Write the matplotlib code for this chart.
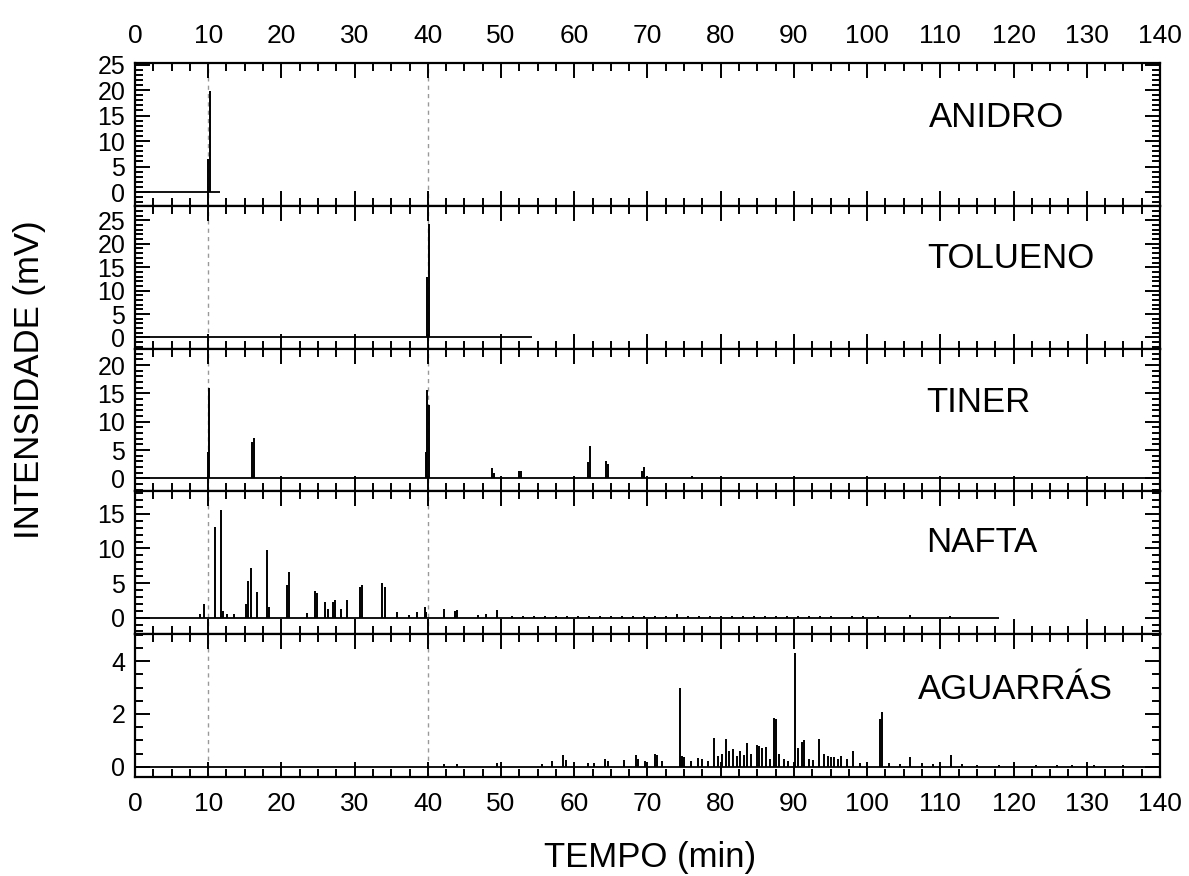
import numpy as np
import matplotlib.pyplot as plt
from matplotlib.ticker import MultipleLocator

plt.rcParams['font.family'] = ['Liberation Sans', 'DejaVu Sans']

# panel names and label positions (time, axes fraction)
names = ['ANIDRO', 'TOLUENO', 'TINER', 'NAFTA', 'AGUARRÁS']
label_x = [108.5, 108.2, 108.1, 108.1, 107.0]
label_y = [0.618, 0.634, 0.626, 0.639, 0.616]

# baseline extent (min)
base_end = [11.6, 54.2, 140, 118, 140]

# peaks: retention time (min) and height (mV)
anidro_t = [10.0, 10.2]
anidro_h = [6.5, 19.8]

tolueno_t = [39.9, 40.2]
tolueno_h = [13.0, 24.2]

tiner_t = [10.0, 10.15, 16.0, 16.2, 39.7, 39.9, 40.1, 48.8, 49.0, 52.4, 52.7,
           61.9, 62.2, 64.3, 64.6, 69.3, 69.5, 76.1]
tiner_h = [4.7, 16.0, 6.5, 7.2, 4.7, 15.6, 12.9, 1.8, 1.0, 1.35, 1.35,
           2.9, 5.8, 3.0, 2.6, 1.35, 1.95, 0.4]

nafta_t = [8.9, 9.4, 11.0, 11.8, 12.0, 12.6, 13.5, 15.2, 15.4, 15.8, 16.7, 18.1, 18.3,
           20.7, 21.0, 23.5, 24.6, 24.9, 25.9, 26.3, 27.0, 27.3, 28.1, 28.9, 30.7, 31.0,
           33.8, 34.1, 35.8, 37.4, 38.5, 39.6, 39.7, 42.2, 43.7, 44.0, 46.8, 47.9, 49.4,
           51.5, 53.0, 54.5, 56.0, 57.5, 59.0, 60.5, 62.0, 63.5, 65.0, 66.5, 68.0, 69.5,
           71.0, 72.5, 74.1, 75.5, 77.0, 78.5, 80.0, 81.5, 83.0, 84.5, 86.0, 87.5, 89.0,
           90.5, 92.0, 93.5, 95.0, 98.0, 99.5, 101.5, 105.8, 111.3]
nafta_h = [0.5, 1.9, 13.1, 15.6, 1.0, 0.5, 0.5, 1.9, 5.3, 7.2, 3.7, 9.8, 1.6,
           4.7, 6.6, 0.7, 3.8, 3.6, 2.2, 1.3, 2.3, 2.5, 1.3, 2.5, 4.5, 4.7,
           5.0, 4.5, 0.8, 0.4, 0.8, 1.6, 0.8, 1.3, 1.0, 1.1, 0.4, 0.5, 1.1,
           0.25, 0.3, 0.2, 0.3, 0.25, 0.3, 0.25, 0.3, 0.2, 0.3, 0.25, 0.25, 0.3,
           0.3, 0.25, 0.5, 0.25, 0.3, 0.2, 0.25, 0.3, 0.25, 0.3, 0.25, 0.2, 0.3,
           0.25, 0.3, 0.25, 0.3, 0.2, 0.2, 0.3, 0.35, 0.3]

aguarras_t = [42.2, 44.0, 49.4, 55.6, 57.0, 58.4, 58.9, 61.9, 62.7, 64.2, 64.6, 66.8,
              68.4, 68.7, 69.6, 71.0, 71.3, 72.0, 74.4, 74.7, 75.0, 76.0, 76.9, 77.5,
              78.2, 79.1, 79.6, 80.2, 80.7, 81.2, 81.7, 82.2, 82.7, 83.2, 83.6, 84.2,
              84.9, 85.3, 85.7, 86.2, 86.7, 87.3, 87.6, 88.0, 88.6, 89.2, 90.1, 90.5,
              91.1, 91.4, 92.0, 92.6, 93.4, 94.1, 94.6, 95.0, 95.5, 96.0, 96.5, 97.2,
              98.1, 99.0, 101.8, 102.0, 103.0, 104.5, 105.9, 107.5, 109.0, 111.5, 113.0,
              115.0, 118.0, 120.0, 123.0, 126.0, 128.0, 131.0, 135.0]
aguarras_h = [0.1, 0.12, 0.15, 0.1, 0.22, 0.45, 0.25, 0.15, 0.15, 0.3, 0.2, 0.24,
              0.45, 0.3, 0.2, 0.5, 0.45, 0.2, 3.0, 0.4, 0.37, 0.2, 0.34, 0.3,
              0.2, 1.1, 0.4, 0.5, 1.04, 0.6, 0.66, 0.4, 0.6, 0.45, 0.9, 0.5,
              0.82, 0.8, 0.7, 0.75, 0.3, 1.86, 1.8, 0.5, 0.3, 0.2, 4.3, 0.7,
              0.94, 1.0, 0.3, 0.25, 1.04, 0.5, 0.4, 0.35, 0.37, 0.3, 0.4, 0.3,
              0.6, 0.15, 1.8, 2.08, 0.15, 0.12, 0.37, 0.15, 0.1, 0.44, 0.1,
              0.08, 0.08, 0.1, 0.05, 0.06, 0.07, 0.05, 0.07]

peak_t = [anidro_t, tolueno_t, tiner_t, nafta_t, aguarras_t]
peak_h = [anidro_h, tolueno_h, tiner_h, nafta_h, aguarras_h]

ylims = [(-2.7, 25.3), (-2.4, 28.1), (-2.3, 22.9), (-2.4, 18.25), (-0.39, 5.02)]
ymajor = [5, 5, 5, 5, 2]
yminor = [1, 1, 1, 1, 0.5]

fig, axes = plt.subplots(5, 1, sharex=True, figsize=(11.89, 8.76), dpi=100,
                         gridspec_kw={'hspace': 0})
fig.subplots_adjust(left=0.1135, right=0.9756, top=0.928, bottom=0.113)

for i, ax in enumerate(axes):
    ax.hlines(0, 0, base_end[i], color='black', lw=1.3)
    ax.vlines(peak_t[i], 0, peak_h[i], color='black', lw=1.4)
    for xv in [10, 40]:
        ax.axvline(xv, color='#999999', lw=1, ls=(0, (3, 3)), zorder=0)
    ax.set_xlim(0, 140)
    ax.set_ylim(*ylims[i])
    ax.xaxis.set_major_locator(MultipleLocator(10))
    ax.xaxis.set_minor_locator(MultipleLocator(2.5))
    ax.yaxis.set_major_locator(MultipleLocator(ymajor[i]))
    ax.yaxis.set_minor_locator(MultipleLocator(yminor[i]))
    ax.tick_params(which='both', direction='in', top=True, right=True, width=1.4,
                   labelbottom=(i == 4), labeltop=(i == 0))
    ax.tick_params(which='major', length=10.5)
    ax.tick_params(which='minor', length=5.5)
    ax.tick_params(axis='x', labelsize=19, pad=11)
    ax.tick_params(axis='y', labelsize=18, pad=7)
    for s in ax.spines.values():
        s.set_linewidth(1.6)
    ax.text(label_x[i], label_y[i], names[i], transform=ax.get_xaxis_transform(),
            fontsize=25, va='center', ha='left')

    lo, hi = ylims[i]
    ax.set_yticks([v for v in ax.get_yticks() if lo <= v <= hi])

fig.text(30 / 1189, 1 - 380 / 876, 'INTENSIDADE (mV)', rotation=90, fontsize=25,
         ha='center', va='center')
fig.text(650 / 1189, 1 - 858 / 876, 'TEMPO (min)', fontsize=25, ha='center', va='center')

plt.savefig('out.png', dpi=100)
